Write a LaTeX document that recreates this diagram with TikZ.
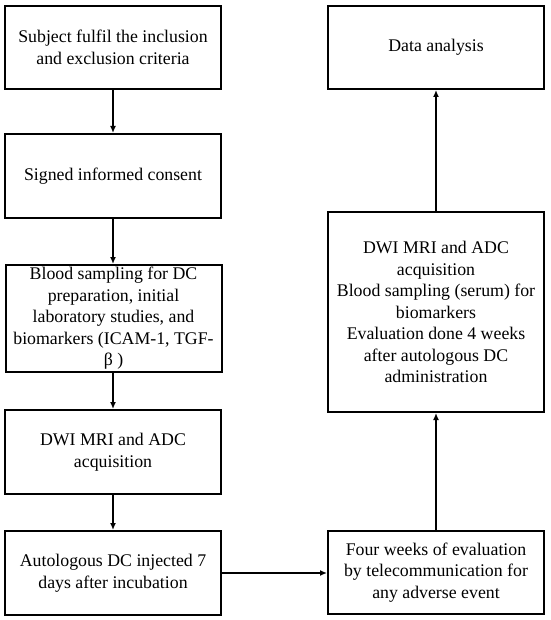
\documentclass[tikz,border=0pt]{standalone}
\usepackage{fontspec}
\setmainfont{Liberation Serif}
\usetikzlibrary{arrows.meta}
\begin{document}
\begin{tikzpicture}[x=1pt,y=1pt,
  box/.style={draw=black, line width=2pt, inner sep=0pt, minimum width=216pt, align=center,
    font=\fontsize{17.8}{21.5}\selectfont},
  conn/.style={line width=2pt, -{Latex[length=7pt,width=6pt]}}]
\useasboundingbox (0,0) rectangle (550,-620);
\node[box, minimum height=83pt] (b1) at (113,-47.5) {Subject fulfil the inclusion\\and exclusion criteria};
\node[box, minimum height=84pt] (b2) at (113,-176) {Signed informed consent};
\node[box, minimum height=107pt] (b3) at (113.5,-318.5) {Blood sampling for DC\\preparation, initial\\laboratory studies, and\\biomarkers (ICAM-1, TGF-\\β )};
\node[box, minimum height=84pt] (b4) at (113,-452) {DWI MRI and ADC\\acquisition};
\node[box, minimum height=84pt] (b5) at (113,-573) {Autologous DC injected 7\\days after incubation};
\node[box, minimum height=83pt] (r1) at (436,-47.5) {Data analysis};
\node[box, minimum height=200pt] (r2) at (436,-312) {DWI MRI and ADC\\acquisition\\Blood sampling (serum) for\\biomarkers\\Evaluation done 4 weeks\\after autologous DC\\administration};
\node[box, minimum height=83pt] (r3) at (436,-572.5) {Four weeks of evaluation\\by telecommunication for\\any adverse event};
\draw[conn] (b1.south) -- (b2.north);
\draw[conn] (b2.south) -- (b3.north -| b2.south);
\draw[conn] (b3.south -| b4.north) -- (b4.north);
\draw[conn] (b4.south) -- (b5.north);
\draw[conn] (b5.east) -- (r3.west |- b5.east);
\draw[conn] (r3.north) -- (r2.south);
\draw[conn] (r2.north) -- (r1.south);
\end{tikzpicture}
\end{document}
